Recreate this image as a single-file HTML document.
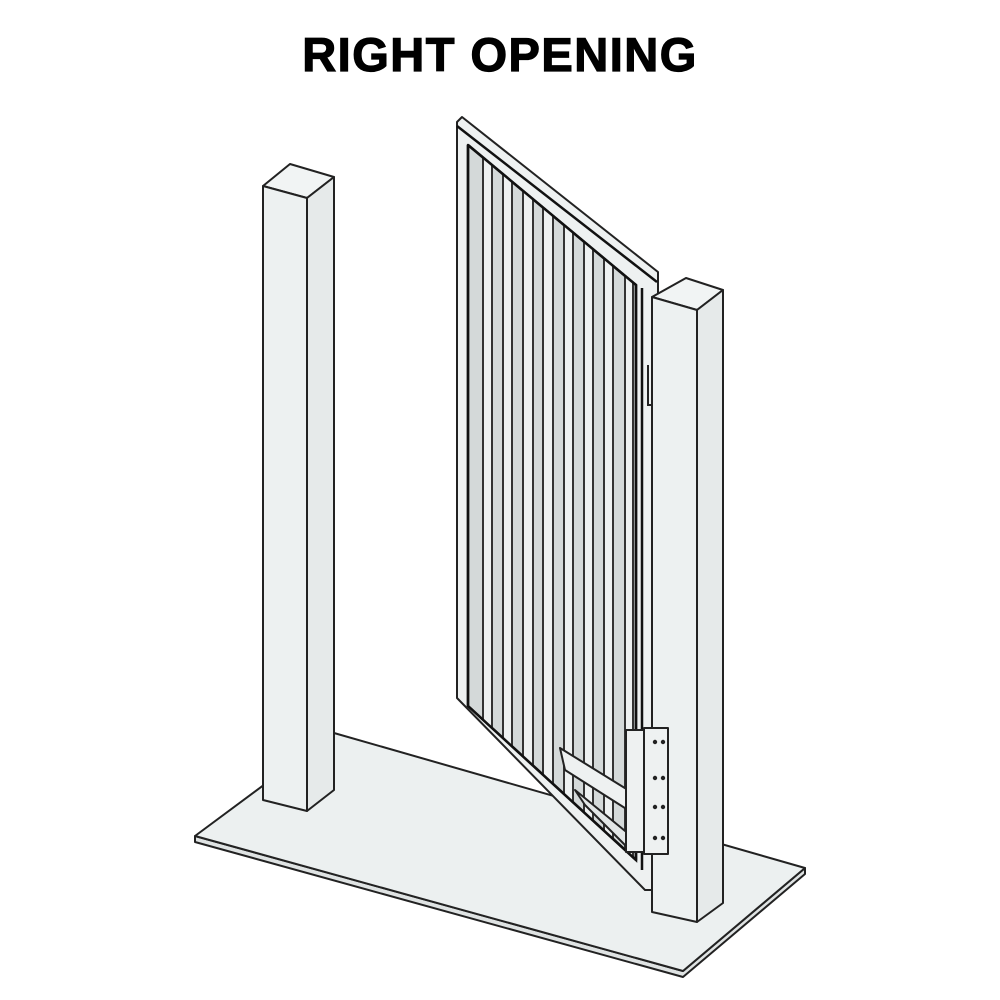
<!DOCTYPE html>
<html><head><style>
html,body{margin:0;padding:0;background:#fff;}
svg{display:block}
</style></head><body>
<svg width="1000" height="1000" viewBox="0 0 1000 1000" xmlns="http://www.w3.org/2000/svg">
<text x="500" y="71" text-anchor="middle" font-family="Liberation Sans, sans-serif" font-weight="bold" font-size="47" fill="#000" stroke="#000" stroke-width="1.2" letter-spacing="1.5">RIGHT OPENING</text>
<g stroke="#222" stroke-width="2" stroke-linejoin="round">
<!-- slab -->
<polygon points="195,836 195,842 683,977 805,874 805,868 683,971" fill="#dfe3e3"/>
<polygon points="195,836 334,733 805,868 683,971" fill="#ecf0f0"/>
<!-- left post -->
<polygon points="263,186 290,164 334,177 307,198" fill="#f1f4f4"/>
<polygon points="263,186 307,198 307,811 263,800" fill="#edf1f1"/>
<polygon points="307,198 334,177 334,790 307,811" fill="#e6eaea"/>
<!-- gate -->
<polygon points="457,122 462,117 658,272 658,890 645,890 457,698" fill="#eef1f1"/>
<polygon points="468,145 636,285 636,860 468,706" fill="#d4d9d9" stroke="#111" stroke-width="2.5"/>
</g>
<clipPath id="gc"><polygon points="468,145 636,285 636,860 468,706"/></clipPath>
<g clip-path="url(#gc)" stroke="#333" stroke-width="2" fill="#eef1f1">
<rect x="483" y="100" width="9" height="652"/>
<rect x="503" y="100" width="9" height="668"/>
<rect x="523" y="100" width="10" height="686"/>
<rect x="543" y="100" width="10" height="704"/>
<rect x="564" y="100" width="9" height="722"/>
<rect x="584" y="100" width="9" height="740"/>
<rect x="604" y="100" width="9" height="758"/>
<rect x="625" y="100" width="8" height="776"/>
</g>
<g stroke="#111" stroke-width="2.5" fill="none">
<polyline points="468,145 636,285 636,860 468,706 468,145"/>
<line x1="457" y1="126" x2="657" y2="282"/>
<line x1="642" y1="288" x2="642" y2="870"/>
</g>
<!-- latch -->
<path d="M648,365 v40 h6 v-40" stroke="#222" stroke-width="2" fill="#eef1f1"/>
<!-- right post -->
<g stroke="#222" stroke-width="2" stroke-linejoin="round">
<polygon points="652,297 686,278 723,290 697,310" fill="#f1f4f4"/>
<polygon points="652,297 697,310 697,922 652,912" fill="#edf1f1"/>
<polygon points="697,310 723,290 723,903 697,922" fill="#e6eaea"/>
</g>
<!-- hinge -->
<g stroke="#222" stroke-width="2" fill="#eef1f1" stroke-linejoin="round">
<polygon points="560,748 628,790 628,810 565,770"/>
<polygon points="575,790 630,835 630,850 585,805" fill="#e3e7e7"/>
<rect x="626" y="730" width="18" height="122"/>
<rect x="644" y="728" width="24" height="126"/>
</g>
<g fill="#222">
<circle cx="655" cy="742" r="2.2"/><circle cx="663" cy="742" r="2.2"/>
<circle cx="655" cy="778" r="2.2"/><circle cx="663" cy="778" r="2.2"/>
<circle cx="655" cy="807" r="2.2"/><circle cx="663" cy="807" r="2.2"/>
<circle cx="655" cy="838" r="2.2"/><circle cx="663" cy="838" r="2.2"/>
</g>
</svg>
</body></html>
